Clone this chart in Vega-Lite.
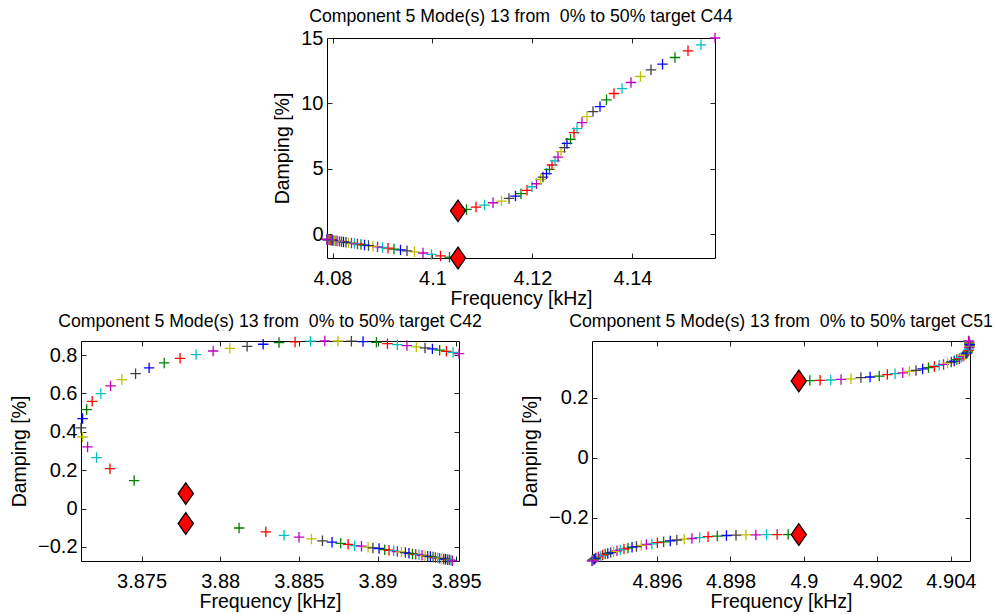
{
  "$schema": "https://vega.github.io/schema/vega-lite/v6.json",
  "padding": {"left": 9, "top": 7, "right": 5, "bottom": 5},
  "background": "white",
  "datasets": {
    "c44": [
      {"f": 4.1051, "d": 1.8, "step": 0},
      {"f": 4.1051, "d": -1.8, "step": 0},
      {"f": 4.1068, "d": 1.91, "step": 1},
      {"f": 4.1087, "d": 2.09, "step": 2},
      {"f": 4.1104, "d": 2.24, "step": 3},
      {"f": 4.1121, "d": 2.42, "step": 4},
      {"f": 4.1138, "d": 2.55, "step": 5},
      {"f": 4.1153, "d": 2.75, "step": 6},
      {"f": 4.1166, "d": 2.93, "step": 7},
      {"f": 4.1177, "d": 3.11, "step": 8},
      {"f": 4.1189, "d": 3.37, "step": 9},
      {"f": 4.1199, "d": 3.64, "step": 10},
      {"f": 4.1208, "d": 3.87, "step": 11},
      {"f": 4.1216, "d": 4.21, "step": 12},
      {"f": 4.1221, "d": 4.38, "step": 13},
      {"f": 4.1228, "d": 4.64, "step": 14},
      {"f": 4.1234, "d": 4.97, "step": 15},
      {"f": 4.1239, "d": 5.30, "step": 16},
      {"f": 4.1245, "d": 5.61, "step": 17},
      {"f": 4.1251, "d": 5.91, "step": 18},
      {"f": 4.1257, "d": 6.32, "step": 19},
      {"f": 4.1264, "d": 6.63, "step": 20},
      {"f": 4.1269, "d": 6.96, "step": 21},
      {"f": 4.1276, "d": 7.27, "step": 22},
      {"f": 4.1283, "d": 7.77, "step": 23},
      {"f": 4.1289, "d": 8.08, "step": 24},
      {"f": 4.1299, "d": 8.54, "step": 25},
      {"f": 4.1309, "d": 9.00, "step": 26},
      {"f": 4.1321, "d": 9.38, "step": 27},
      {"f": 4.1335, "d": 9.76, "step": 28},
      {"f": 4.1348, "d": 10.28, "step": 29},
      {"f": 4.1363, "d": 10.76, "step": 30},
      {"f": 4.1379, "d": 11.14, "step": 31},
      {"f": 4.1397, "d": 11.60, "step": 32},
      {"f": 4.1416, "d": 12.06, "step": 33},
      {"f": 4.1437, "d": 12.57, "step": 34},
      {"f": 4.1460, "d": 13.00, "step": 35},
      {"f": 4.1485, "d": 13.51, "step": 36},
      {"f": 4.1511, "d": 14.02, "step": 37},
      {"f": 4.1537, "d": 14.48, "step": 38},
      {"f": 4.1565, "d": 15.00, "step": 39},
      {"f": 4.1034, "d": -1.74, "step": 1},
      {"f": 4.1016, "d": -1.64, "step": 2},
      {"f": 4.0998, "d": -1.53, "step": 3},
      {"f": 4.0981, "d": -1.42, "step": 4},
      {"f": 4.0964, "d": -1.33, "step": 5},
      {"f": 4.0949, "d": -1.25, "step": 6},
      {"f": 4.0936, "d": -1.18, "step": 7},
      {"f": 4.0923, "d": -1.12, "step": 8},
      {"f": 4.0911, "d": -1.05, "step": 9},
      {"f": 4.0900, "d": -1.00, "step": 10},
      {"f": 4.0890, "d": -0.95, "step": 11},
      {"f": 4.0881, "d": -0.90, "step": 12},
      {"f": 4.0872, "d": -0.85, "step": 13},
      {"f": 4.0864, "d": -0.81, "step": 14},
      {"f": 4.0857, "d": -0.77, "step": 15},
      {"f": 4.0850, "d": -0.73, "step": 16},
      {"f": 4.0844, "d": -0.70, "step": 17},
      {"f": 4.0838, "d": -0.66, "step": 18},
      {"f": 4.0832, "d": -0.63, "step": 19},
      {"f": 4.0827, "d": -0.60, "step": 20},
      {"f": 4.0822, "d": -0.57, "step": 21},
      {"f": 4.0818, "d": -0.55, "step": 22},
      {"f": 4.0814, "d": -0.53, "step": 23},
      {"f": 4.0810, "d": -0.51, "step": 24},
      {"f": 4.0807, "d": -0.49, "step": 25},
      {"f": 4.0804, "d": -0.47, "step": 26},
      {"f": 4.0801, "d": -0.46, "step": 27},
      {"f": 4.0799, "d": -0.44, "step": 28},
      {"f": 4.0797, "d": -0.43, "step": 29},
      {"f": 4.0795, "d": -0.42, "step": 30},
      {"f": 4.0793, "d": -0.41, "step": 31},
      {"f": 4.0792, "d": -0.40, "step": 32},
      {"f": 4.0791, "d": -0.40, "step": 33},
      {"f": 4.0790, "d": -0.39, "step": 34},
      {"f": 4.0790, "d": -0.39, "step": 35},
      {"f": 4.0789, "d": -0.38, "step": 36},
      {"f": 4.0789, "d": -0.38, "step": 37},
      {"f": 4.0789, "d": -0.38, "step": 38},
      {"f": 4.0789, "d": -0.38, "step": 39}
    ],
    "c42": [
      {"f": 3.87781, "d": 0.078, "step": 0},
      {"f": 3.87781, "d": -0.078, "step": 0},
      {"f": 3.87453, "d": 0.146, "step": 1},
      {"f": 3.87299, "d": 0.208, "step": 2},
      {"f": 3.87214, "d": 0.266, "step": 3},
      {"f": 3.87157, "d": 0.321, "step": 4},
      {"f": 3.87125, "d": 0.373, "step": 5},
      {"f": 3.87115, "d": 0.420, "step": 6},
      {"f": 3.87125, "d": 0.469, "step": 7},
      {"f": 3.87151, "d": 0.516, "step": 8},
      {"f": 3.87186, "d": 0.559, "step": 9},
      {"f": 3.87241, "d": 0.599, "step": 10},
      {"f": 3.87303, "d": 0.639, "step": 11},
      {"f": 3.87375, "d": 0.672, "step": 12},
      {"f": 3.87462, "d": 0.703, "step": 13},
      {"f": 3.87548, "d": 0.733, "step": 14},
      {"f": 3.87644, "d": 0.759, "step": 15},
      {"f": 3.87745, "d": 0.783, "step": 16},
      {"f": 3.87847, "d": 0.802, "step": 17},
      {"f": 3.87955, "d": 0.821, "step": 18},
      {"f": 3.88061, "d": 0.835, "step": 19},
      {"f": 3.88171, "d": 0.845, "step": 20},
      {"f": 3.88273, "d": 0.856, "step": 21},
      {"f": 3.88374, "d": 0.865, "step": 22},
      {"f": 3.88476, "d": 0.868, "step": 23},
      {"f": 3.88574, "d": 0.872, "step": 24},
      {"f": 3.88665, "d": 0.873, "step": 25},
      {"f": 3.88749, "d": 0.873, "step": 26},
      {"f": 3.88834, "d": 0.872, "step": 27},
      {"f": 3.88908, "d": 0.870, "step": 28},
      {"f": 3.88993, "d": 0.866, "step": 29},
      {"f": 3.89063, "d": 0.859, "step": 30},
      {"f": 3.89126, "d": 0.854, "step": 31},
      {"f": 3.89187, "d": 0.849, "step": 32},
      {"f": 3.89247, "d": 0.842, "step": 33},
      {"f": 3.89302, "d": 0.837, "step": 34},
      {"f": 3.89349, "d": 0.832, "step": 35},
      {"f": 3.89395, "d": 0.825, "step": 36},
      {"f": 3.89438, "d": 0.819, "step": 37},
      {"f": 3.89480, "d": 0.814, "step": 38},
      {"f": 3.89518, "d": 0.807, "step": 39},
      {"f": 3.88120, "d": -0.101, "step": 1},
      {"f": 3.88290, "d": -0.121, "step": 2},
      {"f": 3.88406, "d": -0.139, "step": 3},
      {"f": 3.88501, "d": -0.149, "step": 4},
      {"f": 3.88580, "d": -0.158, "step": 5},
      {"f": 3.88650, "d": -0.168, "step": 6},
      {"f": 3.88711, "d": -0.175, "step": 7},
      {"f": 3.88766, "d": -0.181, "step": 8},
      {"f": 3.88813, "d": -0.186, "step": 9},
      {"f": 3.88855, "d": -0.193, "step": 10},
      {"f": 3.88898, "d": -0.196, "step": 11},
      {"f": 3.88940, "d": -0.201, "step": 12},
      {"f": 3.88971, "d": -0.205, "step": 13},
      {"f": 3.89010, "d": -0.208, "step": 14},
      {"f": 3.89046, "d": -0.214, "step": 15},
      {"f": 3.89073, "d": -0.217, "step": 16},
      {"f": 3.89103, "d": -0.220, "step": 17},
      {"f": 3.89126, "d": -0.224, "step": 18},
      {"f": 3.89152, "d": -0.226, "step": 19},
      {"f": 3.89177, "d": -0.229, "step": 20},
      {"f": 3.89200, "d": -0.233, "step": 21},
      {"f": 3.89222, "d": -0.236, "step": 22},
      {"f": 3.89243, "d": -0.238, "step": 23},
      {"f": 3.89264, "d": -0.241, "step": 24},
      {"f": 3.89283, "d": -0.243, "step": 25},
      {"f": 3.89302, "d": -0.246, "step": 26},
      {"f": 3.89319, "d": -0.248, "step": 27},
      {"f": 3.89336, "d": -0.250, "step": 28},
      {"f": 3.89353, "d": -0.252, "step": 29},
      {"f": 3.89368, "d": -0.255, "step": 30},
      {"f": 3.89383, "d": -0.257, "step": 31},
      {"f": 3.89395, "d": -0.259, "step": 32},
      {"f": 3.89408, "d": -0.260, "step": 33},
      {"f": 3.89421, "d": -0.262, "step": 34},
      {"f": 3.89433, "d": -0.264, "step": 35},
      {"f": 3.89446, "d": -0.266, "step": 36},
      {"f": 3.89457, "d": -0.267, "step": 37},
      {"f": 3.89467, "d": -0.269, "step": 38},
      {"f": 3.89476, "d": -0.272, "step": 39}
    ],
    "c51": [
      {"f": 4.89986, "d": 0.256, "step": 0},
      {"f": 4.89986, "d": -0.256, "step": 0},
      {"f": 4.90016, "d": 0.257, "step": 1},
      {"f": 4.90044, "d": 0.258, "step": 2},
      {"f": 4.90073, "d": 0.259, "step": 3},
      {"f": 4.90101, "d": 0.261, "step": 4},
      {"f": 4.90128, "d": 0.263, "step": 5},
      {"f": 4.90155, "d": 0.267, "step": 6},
      {"f": 4.90180, "d": 0.269, "step": 7},
      {"f": 4.90205, "d": 0.272, "step": 8},
      {"f": 4.90227, "d": 0.277, "step": 9},
      {"f": 4.90248, "d": 0.280, "step": 10},
      {"f": 4.90269, "d": 0.283, "step": 11},
      {"f": 4.90287, "d": 0.288, "step": 12},
      {"f": 4.90305, "d": 0.291, "step": 13},
      {"f": 4.90323, "d": 0.296, "step": 14},
      {"f": 4.90339, "d": 0.300, "step": 15},
      {"f": 4.90355, "d": 0.304, "step": 16},
      {"f": 4.90368, "d": 0.308, "step": 17},
      {"f": 4.90380, "d": 0.311, "step": 18},
      {"f": 4.90391, "d": 0.316, "step": 19},
      {"f": 4.90401, "d": 0.319, "step": 20},
      {"f": 4.90409, "d": 0.322, "step": 21},
      {"f": 4.90416, "d": 0.327, "step": 22},
      {"f": 4.90423, "d": 0.330, "step": 23},
      {"f": 4.90428, "d": 0.334, "step": 24},
      {"f": 4.90433, "d": 0.338, "step": 25},
      {"f": 4.90437, "d": 0.341, "step": 26},
      {"f": 4.90441, "d": 0.346, "step": 27},
      {"f": 4.90444, "d": 0.349, "step": 28},
      {"f": 4.90446, "d": 0.353, "step": 29},
      {"f": 4.90448, "d": 0.358, "step": 30},
      {"f": 4.90449, "d": 0.362, "step": 31},
      {"f": 4.90450, "d": 0.367, "step": 32},
      {"f": 4.90451, "d": 0.371, "step": 33},
      {"f": 4.90451, "d": 0.374, "step": 34},
      {"f": 4.90451, "d": 0.378, "step": 35},
      {"f": 4.90450, "d": 0.382, "step": 36},
      {"f": 4.90450, "d": 0.386, "step": 37},
      {"f": 4.90449, "d": 0.388, "step": 38},
      {"f": 4.90448, "d": 0.389, "step": 39},
      {"f": 4.89957, "d": -0.256, "step": 1},
      {"f": 4.89927, "d": -0.256, "step": 2},
      {"f": 4.89898, "d": -0.256, "step": 3},
      {"f": 4.89869, "d": -0.257, "step": 4},
      {"f": 4.89842, "d": -0.257, "step": 5},
      {"f": 4.89815, "d": -0.258, "step": 6},
      {"f": 4.89789, "d": -0.259, "step": 7},
      {"f": 4.89764, "d": -0.261, "step": 8},
      {"f": 4.89739, "d": -0.263, "step": 9},
      {"f": 4.89716, "d": -0.266, "step": 10},
      {"f": 4.89695, "d": -0.269, "step": 11},
      {"f": 4.89674, "d": -0.271, "step": 12},
      {"f": 4.89654, "d": -0.274, "step": 13},
      {"f": 4.89636, "d": -0.277, "step": 14},
      {"f": 4.89618, "d": -0.280, "step": 15},
      {"f": 4.89601, "d": -0.283, "step": 16},
      {"f": 4.89586, "d": -0.287, "step": 17},
      {"f": 4.89571, "d": -0.289, "step": 18},
      {"f": 4.89557, "d": -0.292, "step": 19},
      {"f": 4.89544, "d": -0.296, "step": 20},
      {"f": 4.89532, "d": -0.298, "step": 21},
      {"f": 4.89521, "d": -0.301, "step": 22},
      {"f": 4.89510, "d": -0.304, "step": 23},
      {"f": 4.89500, "d": -0.307, "step": 24},
      {"f": 4.89491, "d": -0.310, "step": 25},
      {"f": 4.89482, "d": -0.313, "step": 26},
      {"f": 4.89474, "d": -0.316, "step": 27},
      {"f": 4.89466, "d": -0.319, "step": 28},
      {"f": 4.89459, "d": -0.321, "step": 29},
      {"f": 4.89452, "d": -0.324, "step": 30},
      {"f": 4.89447, "d": -0.327, "step": 31},
      {"f": 4.89441, "d": -0.330, "step": 32},
      {"f": 4.89437, "d": -0.332, "step": 33},
      {"f": 4.89433, "d": -0.334, "step": 34},
      {"f": 4.89430, "d": -0.337, "step": 35},
      {"f": 4.89427, "d": -0.339, "step": 36},
      {"f": 4.89425, "d": -0.341, "step": 37},
      {"f": 4.89424, "d": -0.342, "step": 38},
      {"f": 4.89423, "d": -0.344, "step": 39}
    ]
  },
  "vconcat": [
    {
      "hconcat": [
        {
          "width": 226,
          "height": 220,
          "data": {"values": [{"a": 1}]},
          "mark": {"type": "point", "opacity": 0},
          "encoding": {},
          "view": {"stroke": null}
        },
        {
          "title": {"text": "Component 5 Mode(s) 13 from\u00a0 0% to 50% target C44"},
          "width": 388,
          "height": 220,
          "data": {"name": "c44"},
          "layer": [
            {
              "transform": [{"filter": "datum.step > 0"}],
              "mark": {"type": "point", "shape": "M-1,0L1,0M0,-1L0,1", "filled": false, "size": 110, "strokeWidth": 1.3, "opacity": 1},
              "encoding": {
                "x": {"field": "f", "type": "quantitative", "scale": {"domain": [4.0789, 4.1565], "nice": false, "zero": false}, "axis": {"orient": "bottom", "values": [4.08, 4.1, 4.12, 4.14], "format": ".3~f", "title": "Frequency [kHz]"}},
                "y": {"field": "d", "type": "quantitative", "scale": {"domain": [-1.8, 15], "nice": false, "zero": false}, "axis": {"orient": "left", "values": [0, 5, 10, 15], "format": "~g", "title": "Damping [%]"}},
                "color": {"field": "step", "type": "nominal", "scale": {"range": ["#008000", "#FF0000", "#00BFBF", "#BF00BF", "#BFBF00", "#404040", "#0000FF"]}, "legend": null}
              }
            },
            {
              "transform": [{"filter": "datum.step == 0"}],
              "mark": {"type": "point", "shape": "M0,-1L0.7,0L0,1L-0.7,0Z", "filled": true, "fill": "#FF0000", "stroke": "#000000", "strokeWidth": 1.3, "size": 470, "opacity": 1},
              "encoding": {
                "x": {"field": "f", "type": "quantitative", "axis": {"orient": "top", "values": [4.08, 4.1, 4.12, 4.14], "labels": false, "title": null}},
                "y": {"field": "d", "type": "quantitative", "axis": {"orient": "right", "values": [0, 5, 10, 15], "labels": false, "title": null}}
              }
            }
          ],
          "resolve": {"axis": {"x": "independent", "y": "independent"}}
        }
      ],
      "spacing": 20,
      "bounds": "flush"
    },
    {
      "hconcat": [
        {
          "title": {"text": "Component 5 Mode(s) 13 from\u00a0 0% to 50% target C42"},
          "width": 378,
          "height": 220,
          "data": {"name": "c42"},
          "layer": [
            {
              "transform": [{"filter": "datum.step > 0"}],
              "mark": {"type": "point", "shape": "M-1,0L1,0M0,-1L0,1", "filled": false, "size": 110, "strokeWidth": 1.3, "opacity": 1},
              "encoding": {
                "x": {"field": "f", "type": "quantitative", "scale": {"domain": [3.87115, 3.89518], "nice": false, "zero": false}, "axis": {"orient": "bottom", "values": [3.875, 3.88, 3.885, 3.89, 3.895], "format": ".3~f", "title": "Frequency [kHz]"}},
                "y": {"field": "d", "type": "quantitative", "scale": {"domain": [-0.273, 0.873], "nice": false, "zero": false}, "axis": {"orient": "left", "values": [-0.2, 0, 0.2, 0.4, 0.6, 0.8], "format": ".1~f", "title": "Damping [%]"}},
                "color": {"field": "step", "type": "nominal", "scale": {"range": ["#008000", "#FF0000", "#00BFBF", "#BF00BF", "#BFBF00", "#404040", "#0000FF"]}, "legend": null}
              }
            },
            {
              "transform": [{"filter": "datum.step == 0"}],
              "mark": {"type": "point", "shape": "M0,-1L0.7,0L0,1L-0.7,0Z", "filled": true, "fill": "#FF0000", "stroke": "#000000", "strokeWidth": 1.3, "size": 470, "opacity": 1},
              "encoding": {
                "x": {"field": "f", "type": "quantitative", "axis": {"orient": "top", "values": [3.875, 3.88, 3.885, 3.89, 3.895], "labels": false, "title": null}},
                "y": {"field": "d", "type": "quantitative", "axis": {"orient": "right", "values": [-0.2, 0, 0.2, 0.4, 0.6, 0.8], "labels": false, "title": null}}
              }
            }
          ],
          "resolve": {"axis": {"x": "independent", "y": "independent"}}
        },
        {
          "title": {"text": "Component 5 Mode(s) 13 from\u00a0 0% to 50% target C51"},
          "width": 378,
          "height": 220,
          "data": {"name": "c51"},
          "layer": [
            {
              "transform": [{"filter": "datum.step > 0"}],
              "mark": {"type": "point", "shape": "M-1,0L1,0M0,-1L0,1", "filled": false, "size": 110, "strokeWidth": 1.3, "opacity": 1},
              "encoding": {
                "x": {"field": "f", "type": "quantitative", "scale": {"domain": [4.89423, 4.90452], "nice": false, "zero": false}, "axis": {"orient": "bottom", "values": [4.896, 4.898, 4.9, 4.902, 4.904], "format": ".3~f", "title": "Frequency [kHz]"}},
                "y": {"field": "d", "type": "quantitative", "scale": {"domain": [-0.344, 0.389], "nice": false, "zero": false}, "axis": {"orient": "left", "values": [-0.2, 0, 0.2], "format": ".1~f", "title": "Damping [%]"}},
                "color": {"field": "step", "type": "nominal", "scale": {"range": ["#008000", "#FF0000", "#00BFBF", "#BF00BF", "#BFBF00", "#404040", "#0000FF"]}, "legend": null}
              }
            },
            {
              "transform": [{"filter": "datum.step == 0"}],
              "mark": {"type": "point", "shape": "M0,-1L0.7,0L0,1L-0.7,0Z", "filled": true, "fill": "#FF0000", "stroke": "#000000", "strokeWidth": 1.3, "size": 470, "opacity": 1},
              "encoding": {
                "x": {"field": "f", "type": "quantitative", "axis": {"orient": "top", "values": [4.896, 4.898, 4.9, 4.902, 4.904], "labels": false, "title": null}},
                "y": {"field": "d", "type": "quantitative", "axis": {"orient": "right", "values": [-0.2, 0, 0.2], "labels": false, "title": null}}
              }
            }
          ],
          "resolve": {"axis": {"x": "independent", "y": "independent"}}
        }
      ],
      "spacing": 133,
      "bounds": "flush"
    }
  ],
  "spacing": 4,
  "config": {
    "view": {"stroke": "#000000", "strokeWidth": 1},
    "axis": {
      "grid": false,
      "domain": false,
      "tickSize": -5,
      "tickColor": "#262626",
      "tickWidth": 1,
      "labelFont": "Liberation Sans",
      "labelFontSize": 20,
      "labelColor": "#000000",
      "titleFont": "Liberation Sans",
      "titleFontSize": 19.5,
      "titleFontWeight": "normal",
      "titleColor": "#000000"
    },
    "axisX": {"labelPadding": 15, "titlePadding": 1},
    "axisY": {"labelPadding": 9, "titlePadding": 8},
    "title": {"font": "Liberation Sans", "fontSize": 17.7, "fontWeight": "normal", "color": "#000000", "offset": 2.5, "baseline": "alphabetic", "anchor": "middle", "frame": "group"}
  }
}
